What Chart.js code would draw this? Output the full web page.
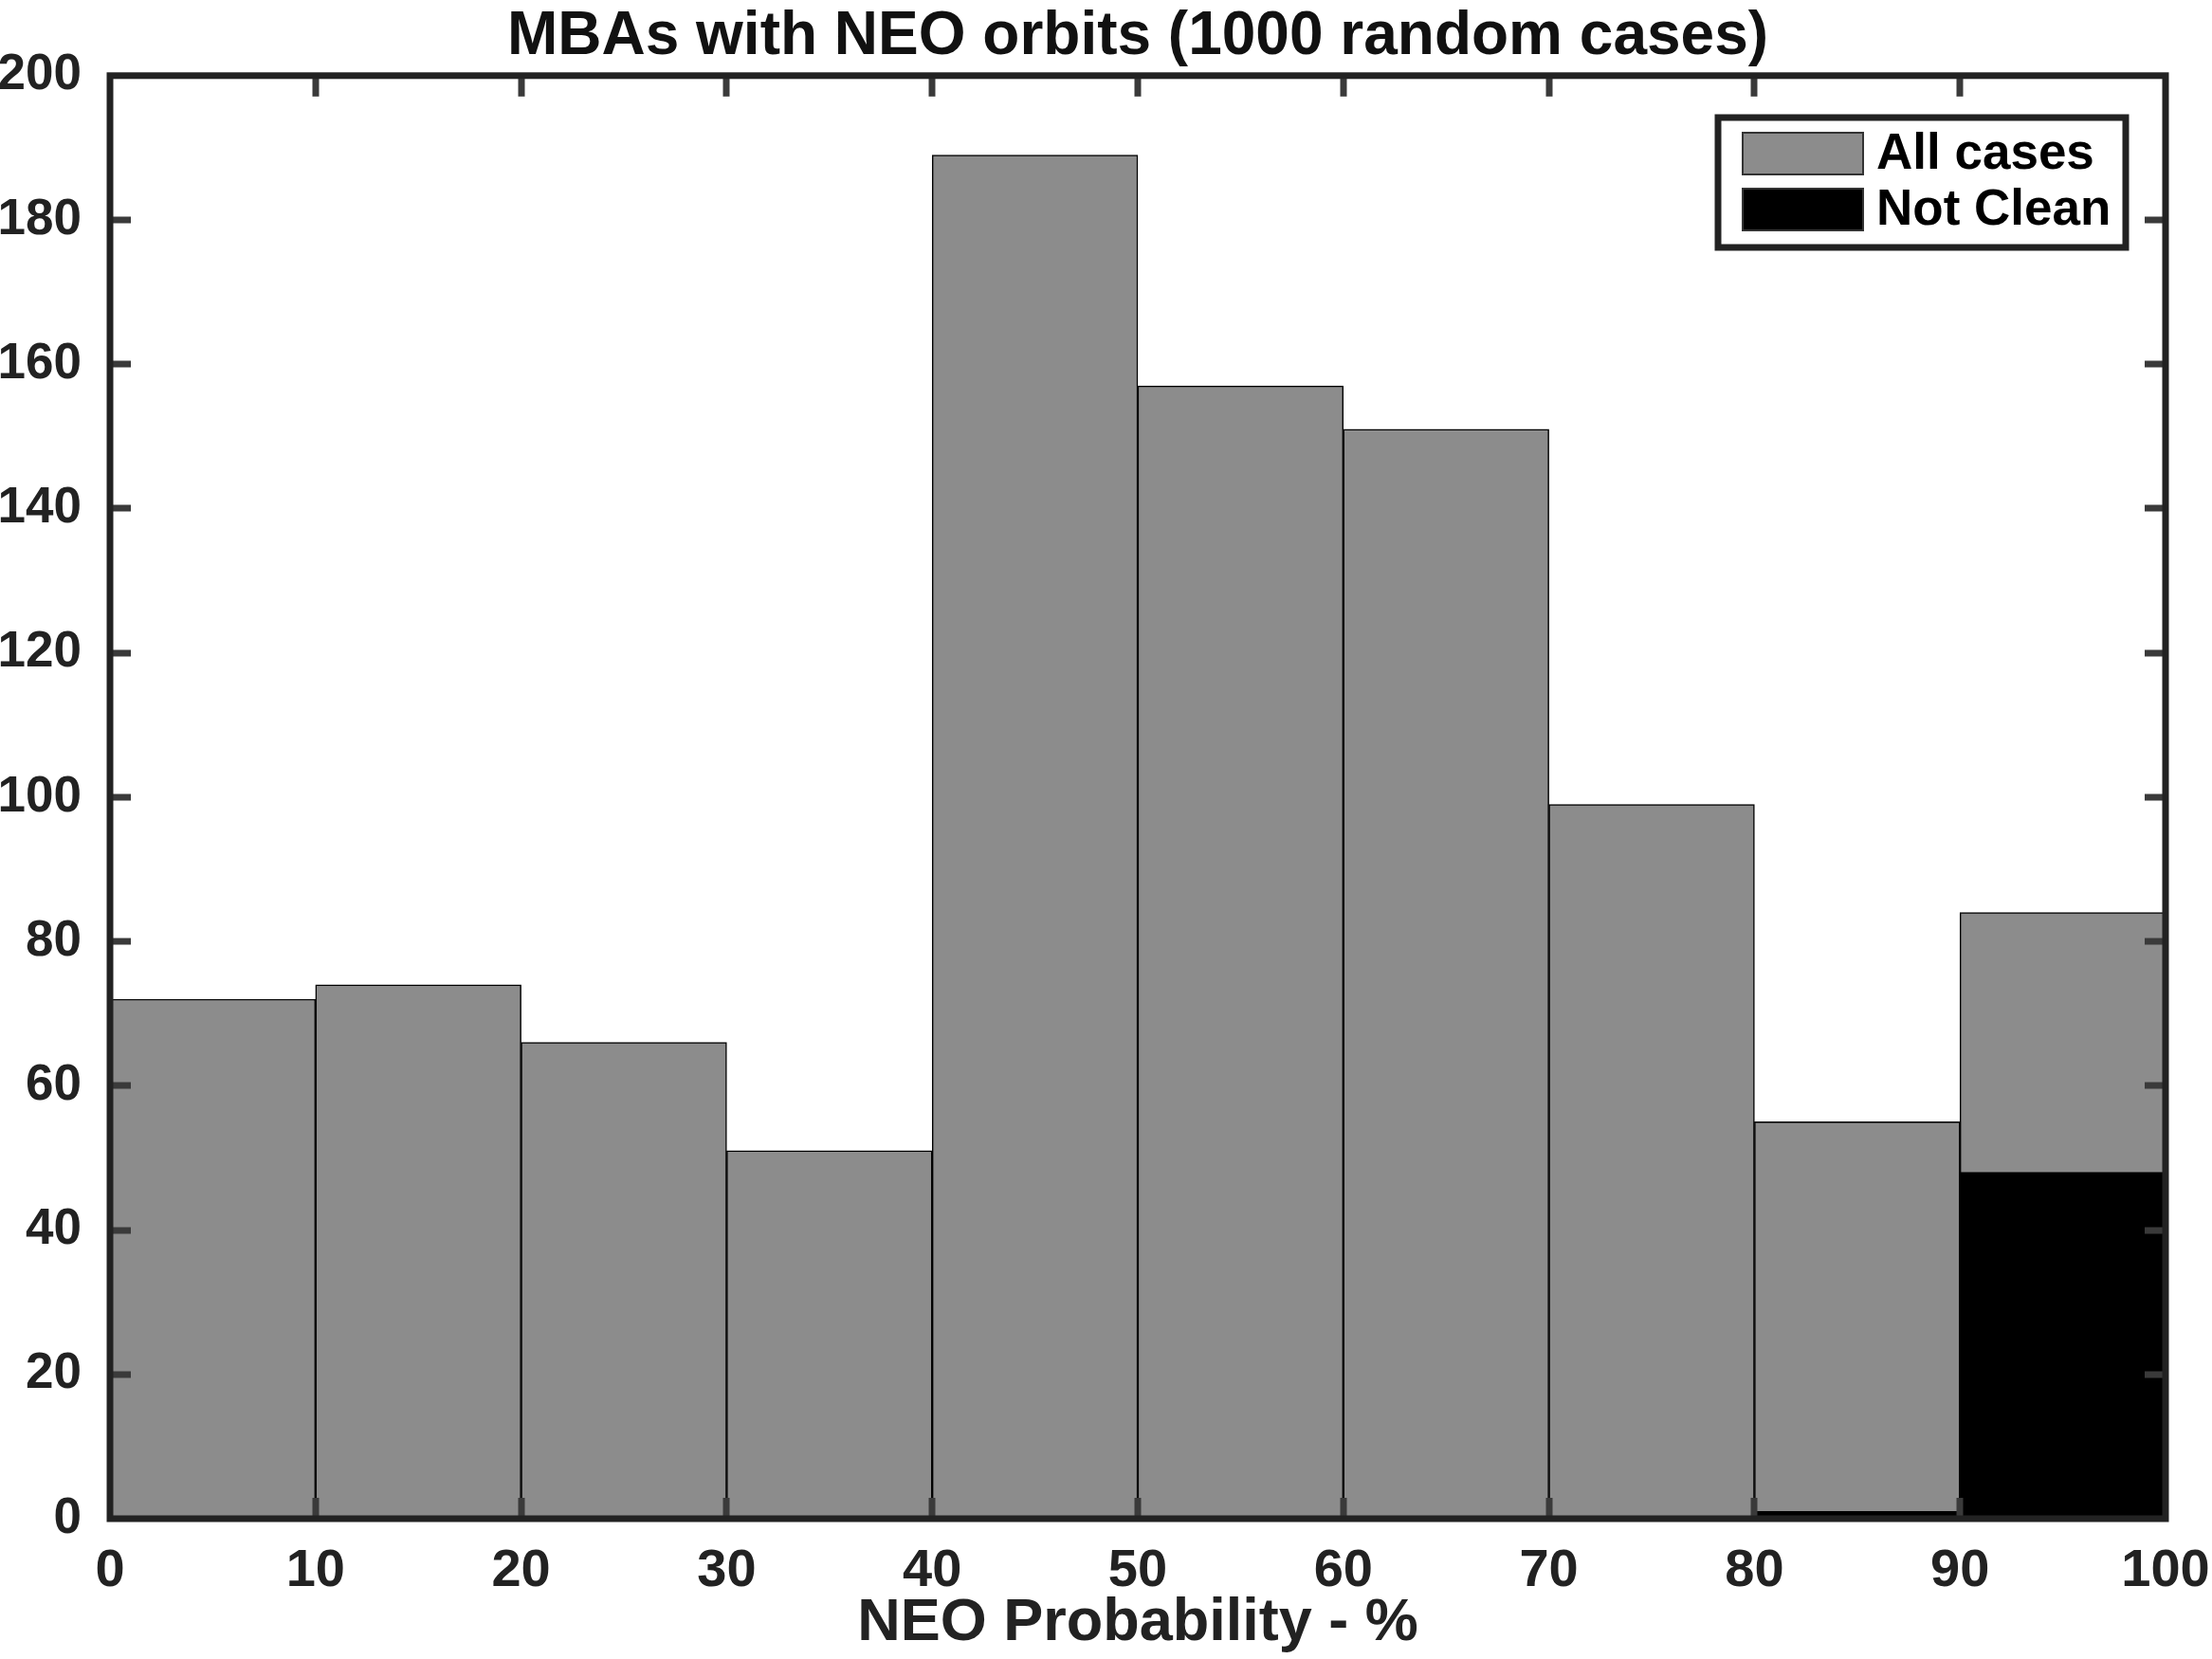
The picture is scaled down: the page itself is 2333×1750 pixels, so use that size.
<!DOCTYPE html>
<html>
<head>
<meta charset="utf-8">
<script src="https://cdn.jsdelivr.net/npm/chart.js@4/dist/chart.umd.min.js"></script>
<style>
  html, body { margin: 0; padding: 0; background: #fff; }
  #wrap { width: 2333px; height: 1750px; position: relative; }
</style>
</head>
<body>
<div id="wrap"><canvas id="c" width="2333" height="1750"></canvas></div>
<script>
// ---- data ----
const binEdges = [0, 10, 20, 30, 40, 50, 60, 70, 80, 90, 100];
const allCases = [72, 74, 66, 51, 189, 157, 151, 99, 55, 84];
const notClean = [0, 0, 0, 0, 0, 0, 0, 0, 1, 48];
const xTicks = [0, 10, 20, 30, 40, 50, 60, 70, 80, 90, 100];
const yTicks = [0, 20, 40, 60, 80, 100, 120, 140, 160, 180, 200];
const titleText = 'MBAs with NEO orbits (1000 random cases)';
const xTitle = 'NEO Probability - %';
const seriesNames = ['All cases', 'Not Clean'];

const FONT = '"Liberation Sans", Arial, sans-serif';
const AXIS = '#222222';

function toPoints(vals) {
  return vals.map((v, i) => ({ x: (binEdges[i] + binEdges[i + 1]) / 2, y: v }));
}

const boxPlugin = {
  id: 'boxPlugin',
  afterDatasetsDraw(chart) {
    const { ctx, chartArea: a, scales } = chart;
    const xs = scales.x, ys = scales.y;
    const tl = 22;
    ctx.save();
    ctx.strokeStyle = '#3a3a3a';
    ctx.lineWidth = 7;
    ctx.lineCap = 'butt';
    xTicks.forEach(v => {
      if (v === xTicks[0] || v === xTicks[xTicks.length - 1]) return;
      const px = Math.round(xs.getPixelForValue(v));
      ctx.beginPath(); ctx.moveTo(px, a.bottom); ctx.lineTo(px, a.bottom - tl); ctx.stroke();
      ctx.beginPath(); ctx.moveTo(px, a.top); ctx.lineTo(px, a.top + tl); ctx.stroke();
    });
    yTicks.forEach(v => {
      if (v === yTicks[0] || v === yTicks[yTicks.length - 1]) return;
      const py = Math.round(ys.getPixelForValue(v));
      ctx.beginPath(); ctx.moveTo(a.left, py); ctx.lineTo(a.left + tl, py); ctx.stroke();
      ctx.beginPath(); ctx.moveTo(a.right, py); ctx.lineTo(a.right - tl, py); ctx.stroke();
    });
    ctx.strokeStyle = AXIS;
    ctx.lineWidth = 7;
    ctx.lineJoin = 'miter';
    ctx.strokeRect(a.left, a.top, a.right - a.left, a.bottom - a.top);
    ctx.restore();
  }
};

const legendPlugin = {
  id: 'customLegend',
  afterDraw(chart) {
    const { ctx } = chart;
    const x0 = 1812, y0 = 124, w = 430, h = 137;
    ctx.save();
    ctx.fillStyle = '#ffffff';
    ctx.fillRect(x0, y0, w, h);
    ctx.strokeStyle = AXIS;
    ctx.lineWidth = 7;
    ctx.strokeRect(x0, y0, w, h);
    const colors = ['#8c8c8c', '#000000'];
    const rows = [162, 221];
    seriesNames.forEach((name, i) => {
      ctx.fillStyle = colors[i];
      ctx.fillRect(1838, rows[i] - 22, 127, 44);
      ctx.strokeStyle = '#333';
      ctx.lineWidth = 2;
      ctx.strokeRect(1838, rows[i] - 22, 127, 44);
      ctx.fillStyle = '#000';
      ctx.font = 'bold 53px ' + FONT;
      ctx.textBaseline = 'middle';
      ctx.textAlign = 'left';
      ctx.fillText(name, 1979, rows[i] + 1);
    });
    ctx.restore();
  }
};

new Chart(document.getElementById('c'), {
  type: 'bar',
  data: {
    datasets: [
      {
        label: seriesNames[1],
        data: toPoints(notClean),
        backgroundColor: '#000000',
        borderColor: '#000000',
        borderWidth: 1.5,
        order: 0,
        borderSkipped: false
      },
      {
        label: seriesNames[0],
        data: toPoints(allCases),
        backgroundColor: '#8c8c8c',
        borderColor: '#000000',
        borderWidth: 1.5,
        order: 1,
        borderSkipped: false
      }
    ]
  },
  options: {
    responsive: false,
    animation: false,
    devicePixelRatio: 1,
    layout: { padding: { top: 0, left: 0, right: 49, bottom: 0 } },
    datasets: { bar: { grouped: false, barPercentage: 1.0, categoryPercentage: 1.0 } },
    plugins: {
      legend: { display: false },
      tooltip: { enabled: false },
      title: {
        display: true,
        text: titleText,
        color: '#111',
        fullSize: false,
        font: { family: FONT, size: 64, weight: 'bold', lineHeight: 1.2 },
        padding: { top: 1, bottom: 2 }
      }
    },
    scales: {
      x: {
        type: 'linear',
        min: 0, max: 100,
        offset: false,
        grid: { display: false },
        border: { display: false },
        afterBuildTicks(scale) { scale.ticks = xTicks.map(v => ({ value: v })); },
        ticks: {
          color: '#222',
          font: { family: FONT, size: 56, weight: 'bold' },
          padding: 14,
          maxRotation: 0,
          autoSkip: false
        },
        title: {
          display: true,
          text: xTitle,
          color: '#222',
          font: { family: FONT, size: 63, weight: 'bold', lineHeight: 1.2 },
          padding: { top: 0, bottom: 0 }
        },
        afterFit(scale) {
          scale.height = 148;
          scale.paddingLeft = 0;
          scale.paddingRight = 0;
        }
      },
      y: {
        min: 0, max: 200,
        grid: { display: false },
        border: { display: false },
        afterBuildTicks(scale) { scale.ticks = yTicks.map(v => ({ value: v })); },
        ticks: {
          color: '#222',
          font: { family: FONT, size: 53, weight: 'bold' },
          padding: 22
        },
        afterFit(scale) {
          scale.width = 116;
          scale.paddingTop = 0;
          scale.paddingBottom = 0;
        }
      }
    }
  },
  plugins: [boxPlugin, legendPlugin]
});
</script>
</body>
</html>
